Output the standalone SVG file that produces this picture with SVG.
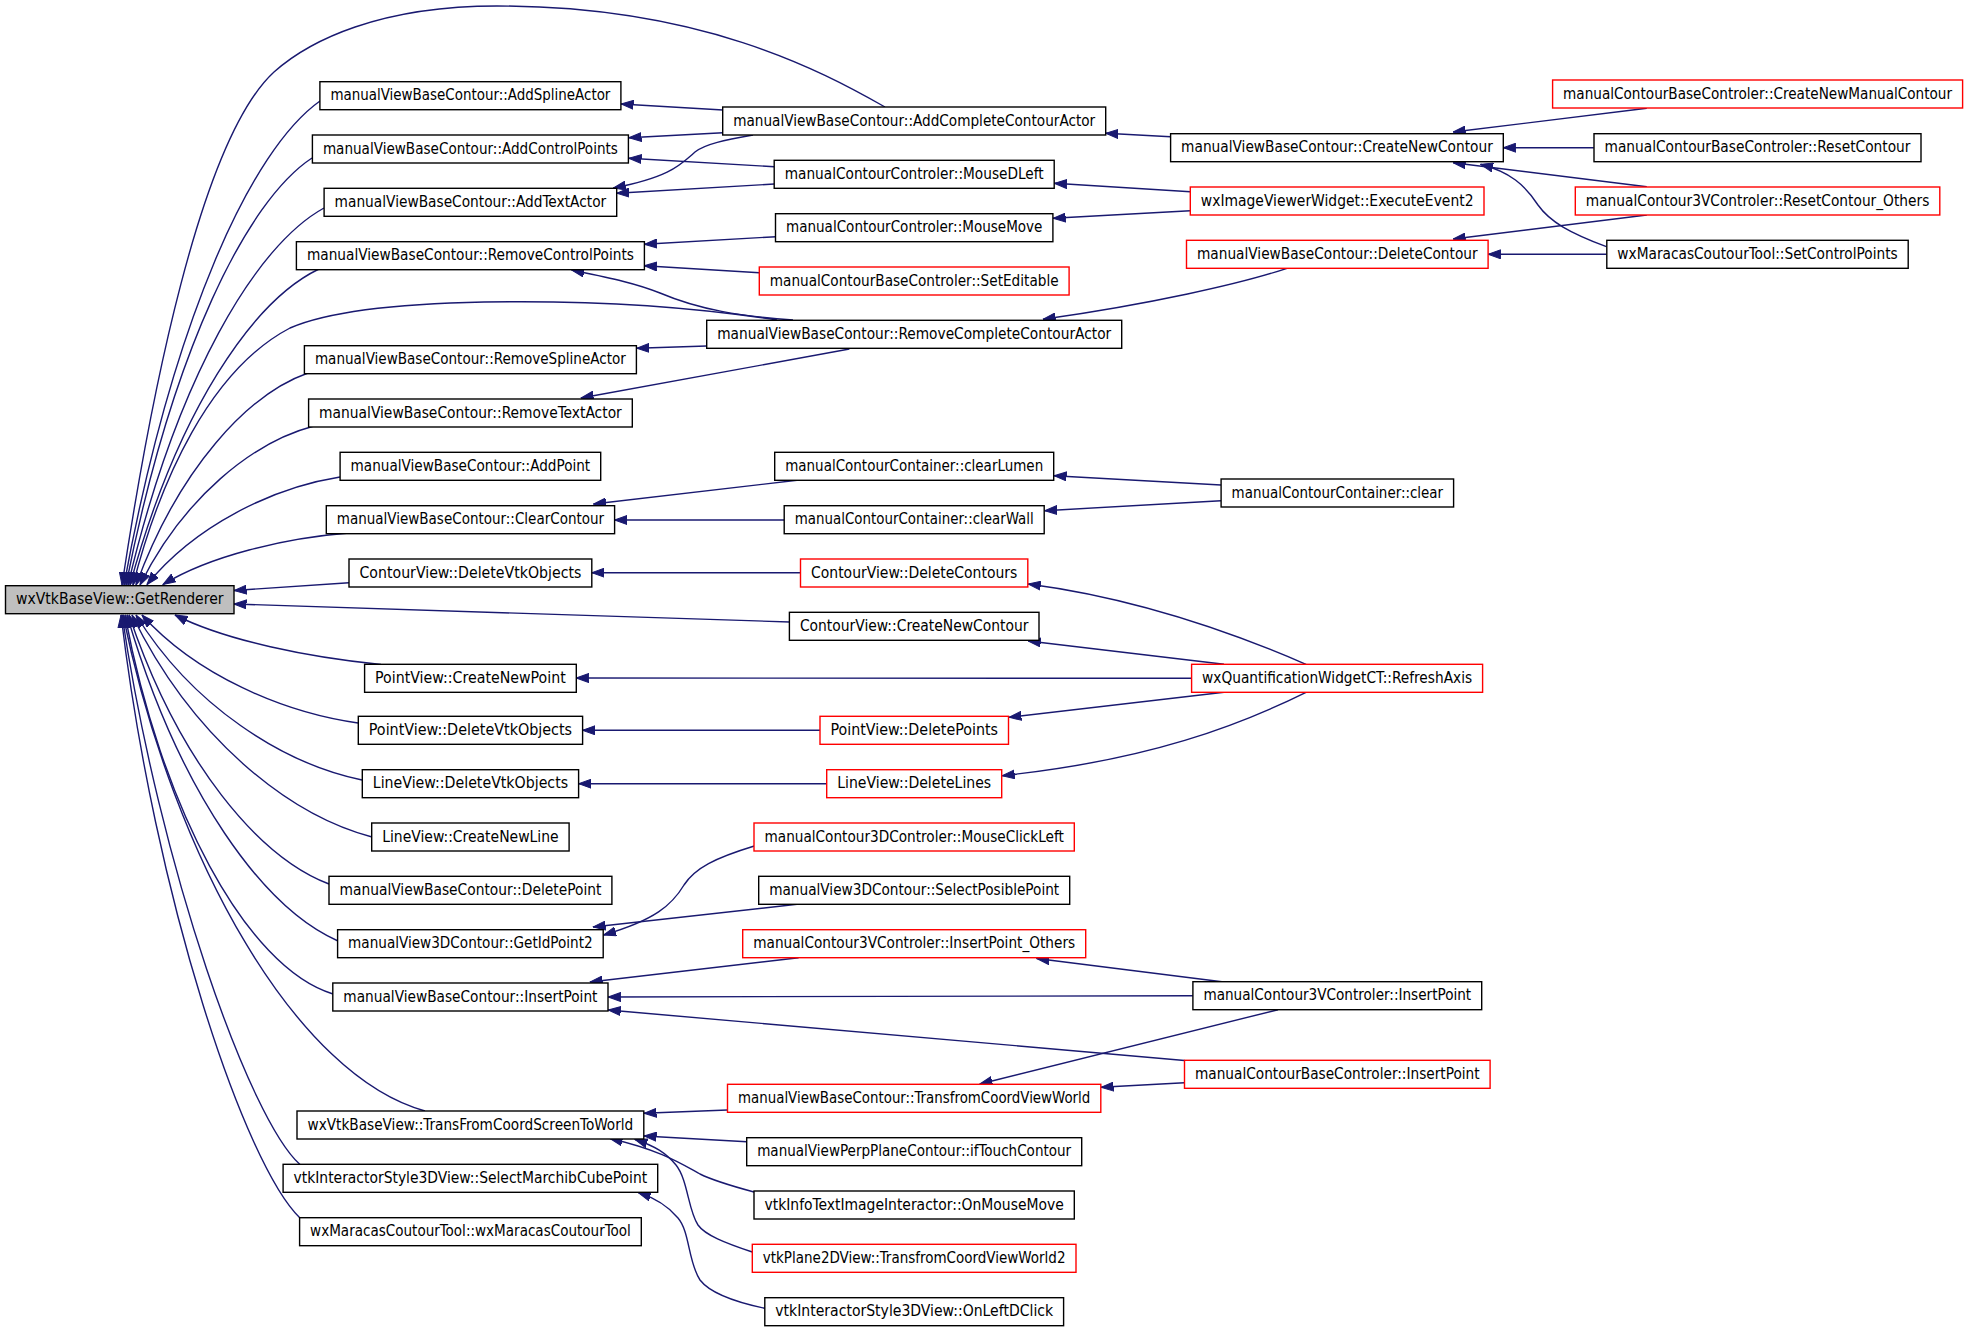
<svg xmlns="http://www.w3.org/2000/svg" width="1968" height="1332" viewBox="0 0 1968 1332">
<style>
.node rect{fill:#ffffff;stroke:#000000;stroke-width:1.4}
.node.red rect{stroke:#ff0000}
.node.cur rect{fill:#bfbfbf}
.node text{font-family:"DejaVu Sans Condensed","DejaVu Sans",sans-serif;font-size:15px;fill:#000000;text-anchor:middle}
.edges path{fill:none;stroke:#191970;stroke-width:1.4;marker-end:url(#ah)}
</style>
<defs>
<marker id="ah" markerUnits="userSpaceOnUse" markerWidth="13" markerHeight="10" viewBox="0 0 13 10" refX="12.5" refY="5" orient="auto">
<path d="M0,0.5 L12.5,5 L0,9.5 z" fill="#191970" stroke="#191970" stroke-width="1"/>
</marker>
</defs>
<rect width="1968" height="1332" fill="#ffffff"/>
<g id="edges" class="edges">
<!-- to GetRenderer, top fan -->
<path d="M885,107 C820,70 700,6 497,6 C380,6 310,40 274,72 C200,140 150,400 122,585"/>
<path d="M320,101 C251.4,149.4 173,319 124,585"/>
<path d="M312,158 C246.9,200.7 172.5,350 126,585"/>
<path d="M324,208 C255.4,245.7 177,377.7 128,585"/>
<path d="M319,269 C252.9,300.6 177.3,411.2 130,585"/>
<path d="M777,320 C700,308 600,300 484,302 C380,304 320,315 290,328 C210,370 160,480 133,585"/>
<path d="M308,373 C247.8,394.2 179,468.4 136,585"/>
<path d="M314,426 C253.1,441.9 183.5,497.5 140,585"/>
<path d="M340,477 C272.5,487.7 195.3,525.2 147,584.5"/>
<path d="M349,533 C283.9,538.1 209.5,556 163,584.5"/>
<path d="M349,582.7 L234,590.5"/>
<path d="M789.6,622 L234,604"/>
<!-- to GetRenderer, bottom fan -->
<path d="M381,664.5 C308.9,657.3 226.5,640.9 175,615"/>
<path d="M358,723 C282.4,712.3 196,674.9 142,615"/>
<path d="M362,780 C282.9,763.6 192.5,706.2 136,615"/>
<path d="M372,837 C288,814.9 192,737.6 132,615"/>
<path d="M329,884 C259,857.2 179,763.4 129,615"/>
<path d="M338,941 C264.2,908.5 179.8,794.8 127,615"/>
<path d="M333,994 C245.6,967.5 160.4,805 125,615"/>
<path d="M425,1111 C298.2,1076.4 174.3,863.5 123,615"/>
<path d="M300,1164.5 C250,1120 160,870 122,615"/>
<path d="M300,1218 C245,1165 155,900 121,615"/>
<!-- column 2 to column 1 -->
<path d="M723,110 L621,104"/>
<path d="M723,132.7 L629,137.7"/>
<path d="M774.3,166.7 L629,158.3"/>
<path d="M753,135 C725,140 705,144 695,152 C680,165 670,177 613.3,188"/>
<path d="M774.3,184 L616.7,193.3"/>
<path d="M776,236.7 L644.3,244.3"/>
<path d="M759.3,272.7 L644.3,265.7"/>
<path d="M793,320 C740,316 700,310 660,293 C635,283 610,278 571.7,270"/>
<path d="M706.7,346 L636.7,348.3"/>
<path d="M849.4,349 L581,398"/>
<path d="M797,480.3 L593.5,504"/>
<path d="M784.6,520 L614.5,520"/>
<path d="M801,572.7 L591.8,572.7"/>
<path d="M1191.6,678.3 L576.2,678"/>
<path d="M820.4,730.3 L582.5,730.3"/>
<path d="M827.1,783.7 L578.7,783.7"/>
<path d="M754.3,846 C715,858 695,868 684,885 C672,905 655,920 603.5,935"/>
<path d="M797,904.3 L593,927"/>
<path d="M798.6,957.7 L590,982"/>
<path d="M1192.9,995.7 L608.2,997"/>
<path d="M1184.5,1060.5 L608.2,1010"/>
<path d="M727.5,1110 L644,1113.3"/>
<path d="M746.7,1141.7 L644,1136"/>
<path d="M754,1192 C728,1185 712,1180 700,1174 C680,1163 660,1150 610,1138.5"/>
<path d="M752.3,1252 C725,1243 705,1235 698,1225 C688,1210 688,1180 676,1165 C666,1153 655,1146 635,1139.5"/>
<path d="M764.8,1308.3 C735,1302 710,1293 700,1280 C688,1262 690,1232 678,1218 C668,1206 655,1198 638.3,1192.7"/>
<!-- column 3 to column 2 -->
<path d="M1170.6,136.7 L1105.7,133.3"/>
<path d="M1190.3,191.7 L1054.4,183.3"/>
<path d="M1190.3,210.7 L1053.1,218.3"/>
<path d="M1287,268.3 C1240,284 1150,304 1043,319.3"/>
<path d="M1221,485 L1054,475.7"/>
<path d="M1221,500.7 L1044.7,510.7"/>
<path d="M1306,664.3 C1250,640 1150,600 1028.3,584"/>
<path d="M1224,664.3 L1028.3,641"/>
<path d="M1224,692.3 L1008.9,717.3"/>
<path d="M1306,692.3 C1240,725 1150,760 1002.2,775.7"/>
<path d="M1221.9,981.7 L1036.7,958.5"/>
<path d="M1278,1009.7 L979.9,1084"/>
<path d="M1184.4,1082.7 L1101,1087.3"/>
<!-- column 4 to column 3 -->
<path d="M1646.8,108.3 L1453.2,132"/>
<path d="M1593.8,147.7 L1503.3,147.7"/>
<path d="M1646.8,186.7 L1453.2,162.7"/>
<path d="M1606.4,246.7 C1570,233 1550,222 1538,205 C1525,185 1510,172 1480.6,164.3"/>
<path d="M1646.8,215 L1453.2,239"/>
<path d="M1606.4,254.3 L1488.1,254.3"/>
</g>
<g id="n0" class="node cur"><rect x="5.5" y="585.7" width="228.5" height="28"/><text x="119.75" y="604.2" textLength="207.5" lengthAdjust="spacingAndGlyphs">wxVtkBaseView::GetRenderer</text></g>
<g id="n1" class="node"><rect x="319.9" y="81.7" width="301" height="28"/><text x="470.4" y="100.2" textLength="280" lengthAdjust="spacingAndGlyphs">manualViewBaseContour::AddSplineActor</text></g>
<g id="n2" class="node"><rect x="312.4" y="135" width="316" height="28"/><text x="470.4" y="153.5" textLength="295" lengthAdjust="spacingAndGlyphs">manualViewBaseContour::AddControlPoints</text></g>
<g id="n3" class="node"><rect x="324.1" y="188.3" width="292.6" height="28"/><text x="470.4" y="206.8" textLength="271.6" lengthAdjust="spacingAndGlyphs">manualViewBaseContour::AddTextActor</text></g>
<g id="n4" class="node"><rect x="296.4" y="241.7" width="348" height="28"/><text x="470.4" y="260.2" textLength="327" lengthAdjust="spacingAndGlyphs">manualViewBaseContour::RemoveControlPoints</text></g>
<g id="n5" class="node"><rect x="304.4" y="345.7" width="332" height="28"/><text x="470.4" y="364.2" textLength="311" lengthAdjust="spacingAndGlyphs">manualViewBaseContour::RemoveSplineActor</text></g>
<g id="n6" class="node"><rect x="308.6" y="399" width="323.7" height="28"/><text x="470.45" y="417.5" textLength="302.7" lengthAdjust="spacingAndGlyphs">manualViewBaseContour::RemoveTextActor</text></g>
<g id="n7" class="node"><rect x="340.1" y="452.3" width="260.6" height="28"/><text x="470.4" y="470.8" textLength="239.6" lengthAdjust="spacingAndGlyphs">manualViewBaseContour::AddPoint</text></g>
<g id="n8" class="node"><rect x="326.3" y="505.7" width="288.3" height="28"/><text x="470.45" y="524.2" textLength="267.3" lengthAdjust="spacingAndGlyphs">manualViewBaseContour::ClearContour</text></g>
<g id="n9" class="node"><rect x="349" y="559" width="242.8" height="28"/><text x="470.4" y="577.5" textLength="221.8" lengthAdjust="spacingAndGlyphs">ContourView::DeleteVtkObjects</text></g>
<g id="n10" class="node"><rect x="364.6" y="664.3" width="211.7" height="28"/><text x="470.45" y="682.8" textLength="190.7" lengthAdjust="spacingAndGlyphs">PointView::CreateNewPoint</text></g>
<g id="n11" class="node"><rect x="358.3" y="716.3" width="224.3" height="28"/><text x="470.45" y="734.8" textLength="203.3" lengthAdjust="spacingAndGlyphs">PointView::DeleteVtkObjects</text></g>
<g id="n12" class="node"><rect x="362.3" y="769.7" width="216.3" height="28"/><text x="470.45" y="788.2" textLength="195.3" lengthAdjust="spacingAndGlyphs">LineView::DeleteVtkObjects</text></g>
<g id="n13" class="node"><rect x="371.7" y="823" width="197.4" height="28"/><text x="470.4" y="841.5" textLength="176.4" lengthAdjust="spacingAndGlyphs">LineView::CreateNewLine</text></g>
<g id="n14" class="node"><rect x="329" y="876.3" width="282.9" height="28"/><text x="470.45" y="894.8" textLength="261.9" lengthAdjust="spacingAndGlyphs">manualViewBaseContour::DeletePoint</text></g>
<g id="n15" class="node"><rect x="337.6" y="929.7" width="265.6" height="28"/><text x="470.4" y="948.2" textLength="244.6" lengthAdjust="spacingAndGlyphs">manualView3DContour::GetIdPoint2</text></g>
<g id="n16" class="node"><rect x="332.8" y="983" width="275.2" height="28"/><text x="470.4" y="1001.5" textLength="254.2" lengthAdjust="spacingAndGlyphs">manualViewBaseContour::InsertPoint</text></g>
<g id="n17" class="node"><rect x="297" y="1111" width="346.8" height="28"/><text x="470.4" y="1129.5" textLength="325.8" lengthAdjust="spacingAndGlyphs">wxVtkBaseView::TransFromCoordScreenToWorld</text></g>
<g id="n18" class="node"><rect x="283.1" y="1164.3" width="374.6" height="28"/><text x="470.4" y="1182.8" textLength="353.6" lengthAdjust="spacingAndGlyphs">vtkInteractorStyle3DView::SelectMarchibCubePoint</text></g>
<g id="n19" class="node"><rect x="299.6" y="1217.7" width="341.7" height="28"/><text x="470.45" y="1236.2" textLength="320.7" lengthAdjust="spacingAndGlyphs">wxMaracasCoutourTool::wxMaracasCoutourTool</text></g>
<g id="n20" class="node"><rect x="722.7" y="107" width="383" height="28"/><text x="914.2" y="125.5" textLength="362" lengthAdjust="spacingAndGlyphs">manualViewBaseContour::AddCompleteContourActor</text></g>
<g id="n21" class="node"><rect x="774.2" y="160.3" width="280" height="28"/><text x="914.2" y="178.8" textLength="259" lengthAdjust="spacingAndGlyphs">manualContourControler::MouseDLeft</text></g>
<g id="n22" class="node"><rect x="775.5" y="213.7" width="277.4" height="28"/><text x="914.2" y="232.2" textLength="256.4" lengthAdjust="spacingAndGlyphs">manualContourControler::MouseMove</text></g>
<g id="n23" class="node red"><rect x="759.3" y="267" width="309.8" height="28"/><text x="914.2" y="285.5" textLength="288.8" lengthAdjust="spacingAndGlyphs">manualContourBaseControler::SetEditable</text></g>
<g id="n24" class="node"><rect x="706.7" y="320.3" width="415" height="28"/><text x="914.2" y="338.8" textLength="394" lengthAdjust="spacingAndGlyphs">manualViewBaseContour::RemoveCompleteContourActor</text></g>
<g id="n25" class="node"><rect x="774.7" y="452.3" width="279" height="28"/><text x="914.2" y="470.8" textLength="258" lengthAdjust="spacingAndGlyphs">manualContourContainer::clearLumen</text></g>
<g id="n26" class="node"><rect x="784.2" y="505.7" width="260" height="28"/><text x="914.2" y="524.2" textLength="239" lengthAdjust="spacingAndGlyphs">manualContourContainer::clearWall</text></g>
<g id="n27" class="node red"><rect x="800.5" y="559" width="227.3" height="28"/><text x="914.15" y="577.5" textLength="206.3" lengthAdjust="spacingAndGlyphs">ContourView::DeleteContours</text></g>
<g id="n28" class="node"><rect x="789.4" y="612.3" width="249.6" height="28"/><text x="914.2" y="630.8" textLength="228.6" lengthAdjust="spacingAndGlyphs">ContourView::CreateNewContour</text></g>
<g id="n29" class="node red"><rect x="820" y="716.3" width="188.5" height="28"/><text x="914.25" y="734.8" textLength="167.5" lengthAdjust="spacingAndGlyphs">PointView::DeletePoints</text></g>
<g id="n30" class="node red"><rect x="826.7" y="769.7" width="175" height="28"/><text x="914.2" y="788.2" textLength="154" lengthAdjust="spacingAndGlyphs">LineView::DeleteLines</text></g>
<g id="n31" class="node red"><rect x="754" y="823" width="320.3" height="28"/><text x="914.15" y="841.5" textLength="299.3" lengthAdjust="spacingAndGlyphs">manualContour3DControler::MouseClickLeft</text></g>
<g id="n32" class="node"><rect x="758.7" y="876.3" width="311" height="28"/><text x="914.2" y="894.8" textLength="290" lengthAdjust="spacingAndGlyphs">manualView3DContour::SelectPosiblePoint</text></g>
<g id="n33" class="node red"><rect x="742.7" y="929.7" width="343" height="28"/><text x="914.2" y="948.2" textLength="322" lengthAdjust="spacingAndGlyphs">manualContour3VControler::InsertPoint_Others</text></g>
<g id="n34" class="node red"><rect x="727.5" y="1084.3" width="373.3" height="28"/><text x="914.15" y="1102.8" textLength="352.3" lengthAdjust="spacingAndGlyphs">manualViewBaseContour::TransfromCoordViewWorld</text></g>
<g id="n35" class="node"><rect x="746.7" y="1137.7" width="335" height="28"/><text x="914.2" y="1156.2" textLength="314" lengthAdjust="spacingAndGlyphs">manualViewPerpPlaneContour::ifTouchContour</text></g>
<g id="n36" class="node"><rect x="754" y="1191" width="320.3" height="28"/><text x="914.15" y="1209.5" textLength="299.3" lengthAdjust="spacingAndGlyphs">vtkInfoTextImageInteractor::OnMouseMove</text></g>
<g id="n37" class="node red"><rect x="752.3" y="1244.3" width="323.7" height="28"/><text x="914.15" y="1262.8" textLength="302.7" lengthAdjust="spacingAndGlyphs">vtkPlane2DView::TransfromCoordViewWorld2</text></g>
<g id="n38" class="node"><rect x="764.8" y="1297.7" width="298.8" height="28"/><text x="914.2" y="1316.2" textLength="277.8" lengthAdjust="spacingAndGlyphs">vtkInteractorStyle3DView::OnLeftDClick</text></g>
<g id="n39" class="node"><rect x="1170.6" y="133.7" width="332.7" height="28"/><text x="1336.95" y="152.2" textLength="311.7" lengthAdjust="spacingAndGlyphs">manualViewBaseContour::CreateNewContour</text></g>
<g id="n40" class="node red"><rect x="1190.3" y="187" width="293.7" height="28"/><text x="1337.15" y="205.5" textLength="272.7" lengthAdjust="spacingAndGlyphs">wxImageViewerWidget::ExecuteEvent2</text></g>
<g id="n41" class="node red"><rect x="1186.5" y="240.3" width="301.6" height="28"/><text x="1337.3" y="258.8" textLength="280.6" lengthAdjust="spacingAndGlyphs">manualViewBaseContour::DeleteContour</text></g>
<g id="n42" class="node"><rect x="1221.1" y="479" width="232.5" height="28"/><text x="1337.35" y="497.5" textLength="211.5" lengthAdjust="spacingAndGlyphs">manualContourContainer::clear</text></g>
<g id="n43" class="node red"><rect x="1191.6" y="664.3" width="291" height="28"/><text x="1337.1" y="682.8" textLength="270" lengthAdjust="spacingAndGlyphs">wxQuantificationWidgetCT::RefreshAxis</text></g>
<g id="n44" class="node"><rect x="1192.9" y="981.7" width="288.8" height="28"/><text x="1337.3" y="1000.2" textLength="267.8" lengthAdjust="spacingAndGlyphs">manualContour3VControler::InsertPoint</text></g>
<g id="n45" class="node red"><rect x="1184.5" y="1060.3" width="305.6" height="28"/><text x="1337.3" y="1078.8" textLength="284.6" lengthAdjust="spacingAndGlyphs">manualContourBaseControler::InsertPoint</text></g>
<g id="n46" class="node red"><rect x="1552.6" y="80" width="410" height="28"/><text x="1757.6" y="98.5" textLength="389" lengthAdjust="spacingAndGlyphs">manualContourBaseControler::CreateNewManualContour</text></g>
<g id="n47" class="node"><rect x="1594" y="133.7" width="327" height="28"/><text x="1757.5" y="152.2" textLength="306" lengthAdjust="spacingAndGlyphs">manualContourBaseControler::ResetContour</text></g>
<g id="n48" class="node red"><rect x="1575.3" y="187" width="364.5" height="28"/><text x="1757.55" y="205.5" textLength="343.5" lengthAdjust="spacingAndGlyphs">manualContour3VControler::ResetContour_Others</text></g>
<g id="n49" class="node"><rect x="1606.8" y="240.3" width="301.4" height="28"/><text x="1757.5" y="258.8" textLength="280.4" lengthAdjust="spacingAndGlyphs">wxMaracasCoutourTool::SetControlPoints</text></g>
</svg>
